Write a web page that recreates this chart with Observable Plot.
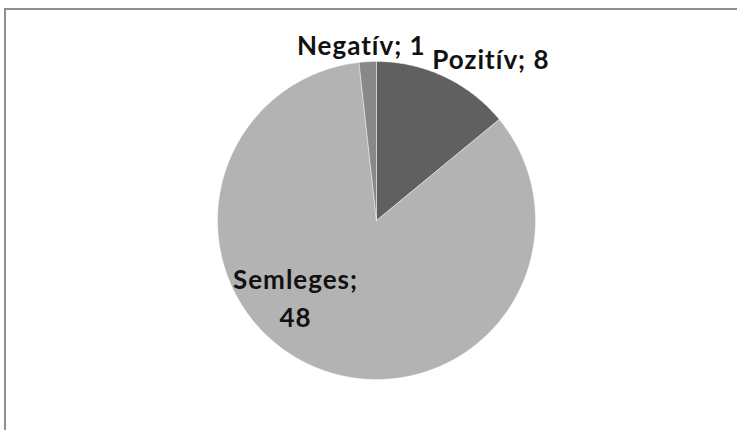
<!DOCTYPE html>
<html>
<head>
<meta charset="utf-8">
<script src="https://cdn.jsdelivr.net/npm/d3@7"></script>
<script src="https://cdn.jsdelivr.net/npm/@observablehq/plot@0.6"></script>
<style>
  html, body { margin: 0; padding: 0; background: #fff; overflow: hidden; }
  #wrap { position: relative; width: 737px; height: 430px; }
  #frame {
    position: absolute; left: 4px; top: 8px; right: -10px; bottom: -10px;
    border-top: 2px solid #8e8e8e; border-left: 2px solid #8e8e8e;
    pointer-events: none;
  }
  #chart { position: absolute; left: 0; top: 0; }
  #chart text { letter-spacing: 1px; }
</style>
</head>
<body>
<div id="wrap"><div id="chart"></div><div id="frame"></div></div>
<script>
// Vélemények megoszlása
const categories = ["Pozitív", "Semleges", "Negatív"];
const values = [8, 48, 1];
const sliceColors = ["#606060", "#b3b3b3", "#888888"];

const W = 737, H = 430;
const R = 159;            // pie radius in px
const CX = 376, CY = 220; // pie centre in px

const rows = categories.map((c, i) => ({category: c, value: values[i]}));
const arcs = d3.pie().sort(null).value(d => d.value)(rows);

// Outline points for each slice (unit radius, angles clockwise from 12 o'clock)
const slicePts = [];
for (const a of arcs) {
  const cat = a.data.category;
  slicePts.push({category: cat, x: 0, y: 0});
  const steps = Math.max(4, Math.ceil((a.endAngle - a.startAngle) / (Math.PI / 360)));
  for (let k = 0; k <= steps; k++) {
    const t = a.startAngle + (a.endAngle - a.startAngle) * k / steps;
    slicePts.push({category: cat, x: Math.sin(t), y: Math.cos(t)});
  }
  slicePts.push({category: cat, x: 0, y: 0});
}

// Label placement: polar offset of each label from the pie centre
const placement = {
  "Pozitív":  {deg: 35,    r: 1.255, sep: " "},
  "Semleges": {deg: 227.2, r: 0.694, sep: "\n"},
  "Negatív":  {deg: -4.9,  r: 1.12,  sep: " "}
};
const labels = arcs.map(a => {
  const p = placement[a.data.category];
  const t = p.deg * Math.PI / 180;
  return {
    x: p.r * Math.sin(t),
    y: p.r * Math.cos(t),
    text: `${a.data.category};${p.sep}${a.data.value}`
  };
});

const chart = Plot.plot({
  width: W,
  height: H,
  margin: 0,
  x: {domain: [-CX / R, (W - CX) / R], axis: null},
  y: {domain: [-(H - CY) / R, CY / R], axis: null},
  color: {domain: categories, range: sliceColors},
  style: {background: "transparent"},
  marks: [
    Plot.line(slicePts, {
      x: "x", y: "y", z: "category",
      fill: "category",
      stroke: "#ffffff", strokeWidth: 0.6, strokeOpacity: 0.7
    }),
    Plot.text(labels, {
      x: "x", y: "y", text: "text",
      fontSize: 26, fontWeight: "bold",
      fontFamily: "Lato, 'Open Sans', sans-serif",
      fill: "#111111",
      lineHeight: 1.46,
      textAnchor: "middle"
    })
  ]
});
document.getElementById("chart").appendChild(chart);
</script>
</body>
</html>
